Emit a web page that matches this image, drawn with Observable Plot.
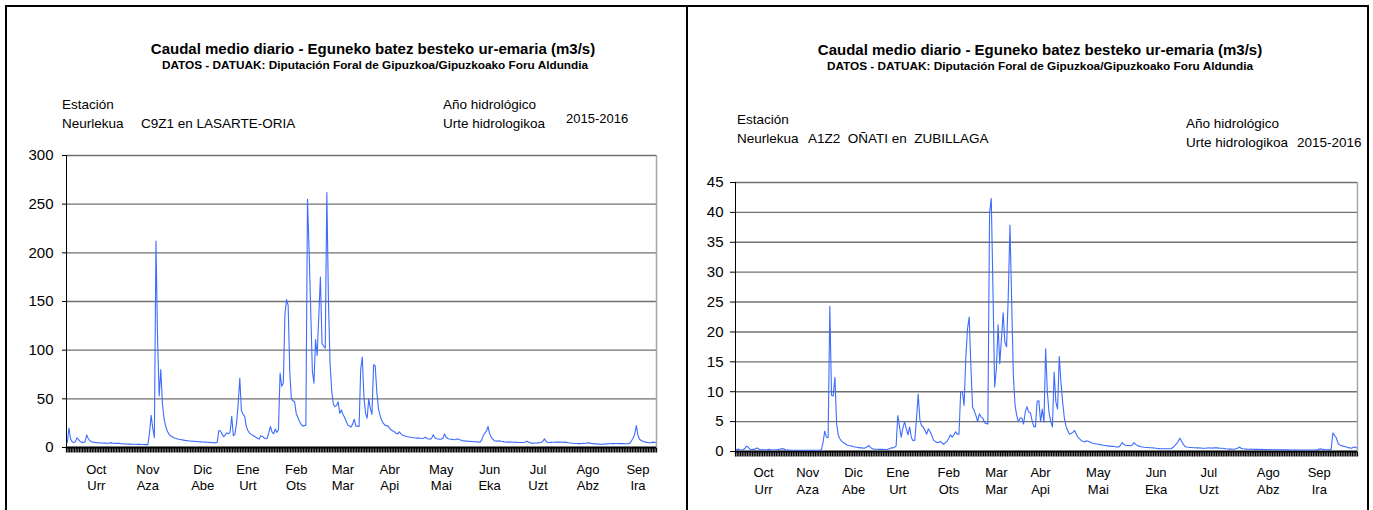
<!DOCTYPE html>
<html>
<head>
<meta charset="utf-8">
<script src="https://cdn.jsdelivr.net/npm/d3@7"></script>
<script src="https://cdn.jsdelivr.net/npm/@observablehq/plot@0.6"></script>
<style>
html, body { margin: 0; padding: 0; background: #fff; }
body { width: 1373px; height: 510px; overflow: hidden; position: relative; font-family: "Liberation Sans", Arial, Helvetica, sans-serif; color: #000; }
.panel { position: absolute; top: 5px; height: 530px; border: 2px solid #000; box-sizing: border-box; }
.t { position: absolute; white-space: pre; line-height: 1; color: #000; }
.plotbox { position: absolute; }
.plotbox svg { display: block; max-width: none; }
</style>
</head>
<body>
<div id="root"></div>
<script>
// ---------- data ----------
const titleText = "Caudal medio diario - Eguneko batez besteko ur-emaria (m3/s)";
const sourceText = "DATOS - DATUAK: Diputación Foral de Gipuzkoa/Gipuzkoako Foru Aldundia";
const stationLabels = ["Estación", "Neurlekua"];
const yearLabels = ["Año hidrológico", "Urte hidrologikoa"];
const yearText = "2015-2016";
const stationLasarte = "C9Z1 en LASARTE-ORIA";
const stationOnati = "A1Z2  OÑATI en  ZUBILLAGA";

const startDay = "2015-10-01";
const endDay = "2016-10-01";

const monthsEs = ["Oct", "Nov", "Dic", "Ene", "Feb", "Mar", "Abr", "May", "Jun", "Jul", "Ago", "Sep"];
const monthsEu = ["Urr", "Aza", "Abe", "Urt", "Ots", "Mar", "Api", "Mai", "Eka", "Uzt", "Abz", "Ira"];

const labelDatesLasarte = ["2015-10-19", "2015-11-20", "2015-12-24", "2016-01-21", "2016-02-20", "2016-03-20",
  "2016-04-18", "2016-05-20", "2016-06-19", "2016-07-19", "2016-08-19", "2016-09-19"];
const labelDatesOnati = ["2015-10-17", "2015-11-12", "2015-12-09", "2016-01-04", "2016-02-03", "2016-03-02",
  "2016-03-28", "2016-05-01", "2016-06-04", "2016-07-05", "2016-08-09", "2016-09-08"];

const yTicksLasarte = [0, 50, 100, 150, 200, 250, 300];
const yTicksOnati = [0, 5, 10, 15, 20, 25, 30, 35, 40, 45];

// daily mean flow (m3/s), 1 Oct 2015 .. 30 Sep 2016 — C9Z1 Lasarte-Oria
const flowLasarte = [
  // Oct
  5, 20, 9, 6, 5, 6, 10, 8, 6, 5.5, 5, 6, 13, 9, 7, 6, 5.5, 5.2, 5, 4.9, 4.8, 4.7, 4.6, 4.5, 4.5, 4.4, 4.4, 5, 4.5, 4.3, 4.2,
  // Nov
  4.2, 4.4, 4.0, 3.8, 3.7, 3.6, 3.6, 3.5, 3.5, 3.4, 3.4, 3.3, 3.3, 3.2, 3.2, 3.1, 3.1, 3.0, 3.0, 3.0, 15, 33, 20, 10, 212, 110, 53, 80, 45, 30,
  // Dec
  22, 17, 14, 12, 11, 10, 9.5, 9, 8.5, 8.2, 7.9, 7.6, 7.3, 7.1, 6.9, 6.7, 6.5, 6.4, 6.3, 6.1, 6.0, 5.9, 5.8, 5.7, 5.6, 5.5, 5.4, 5.3, 5.1, 5.0, 4.9,
  // Jan
  4.8, 5.5, 17.5, 17, 14, 11, 13, 15, 14, 16, 32, 12, 14, 25, 45, 71, 38, 34, 32, 22, 17.5, 15, 13.5, 12.5, 11.5, 10.5, 9.5, 8.6, 12, 11.5, 10,
  // Feb
  9, 9.5, 15, 21.6, 16, 14, 19, 15.5, 18.5, 76.5, 63, 66, 137, 152, 146, 78, 50, 48, 47, 35, 31, 27, 24, 22, 22.5, 23, 255, 202, 141,
  // Mar
  79, 66, 111, 94.5, 135, 175, 107, 104, 102, 262, 150, 86, 58.5, 45, 42, 43, 47, 35, 38.5, 34, 31, 27, 23, 22, 21, 24, 29, 22, 22, 21.5, 80,
  // Apr
  93, 52, 35, 30, 50, 40, 34, 85, 84, 57, 40, 33, 28, 25, 23, 22.5, 22, 19.5, 18, 17, 16, 14.5, 14, 16, 14, 12.5, 12, 11.5, 11, 10.8,
  // May
  10.5, 10.2, 10, 9.8, 9.6, 9.8, 9.5, 9.3, 9.5, 10.5, 9.5, 8.7, 8.4, 9.5, 13, 10, 9, 8.8, 8.6, 8.5, 9.5, 14, 10.5, 9.2, 8.8, 8.5, 8.3, 8, 8.2, 8.9, 8.3,
  // Jun
  7.8, 7, 6.8, 6.6, 6.5, 6.4, 6.3, 6.2, 6, 5.9, 5.8, 5.6, 5.5, 7.5, 12, 14.7, 17, 21.6, 14, 10.5, 8.5, 7, 6.5, 6.6, 6.8, 6.4, 6.1, 5.8, 5.6, 5.5,
  // Jul
  5.5, 5.5, 5.4, 5.4, 5.5, 5.3, 5.2, 5.2, 5.1, 5.2, 5.6, 6.5, 5.6, 5, 4.4, 4.5, 4.6, 4.7, 4.8, 4.9, 5.1, 6.5, 8.9, 6.3, 5.1, 5.2, 5.3, 5.4, 5.4, 5.5, 5.5,
  // Aug
  5.5, 5.5, 5.4, 5.3, 5.5, 5.2, 4.9, 4.6, 4.4, 4.3, 4.1, 4.1, 4.0, 4.0, 4.1, 4.2, 4.3, 4.4, 4.8, 4.5, 4.2, 4.0, 3.8, 3.7, 3.6, 3.5, 3.4, 3.4, 3.5, 3.6, 3.7,
  // Sep
  3.8, 3.9, 4.0, 4.0, 4.1, 4.1, 4.0, 4.0, 4.1, 4.0, 3.9, 3.8, 3.8, 4.5, 7, 9.5, 14, 22.6, 12.3, 8.5, 7.2, 6.5, 5.8, 5.5, 5.2, 4.8, 4.9, 5.5, 5.3, 5.1
];

// daily mean flow (m3/s), 1 Oct 2015 .. 30 Sep 2016 — A1Z2 Oñati en Zubillaga
const flowOnati = [
  // Oct
  0.3, 0.4, 0.3, 0.25, 0.3, 0.5, 0.9, 0.7, 0.4, 0.3, 0.35, 0.4, 0.6, 0.45, 0.3, 0.3, 0.3, 0.25, 0.3, 0.35, 0.3, 0.25, 0.25, 0.3, 0.3, 0.35, 0.4, 0.5, 0.4, 0.3, 0.25,
  // Nov
  0.25, 0.22, 0.2, 0.2, 0.2, 0.2, 0.2, 0.2, 0.2, 0.2, 0.2, 0.2, 0.2, 0.2, 0.2, 0.2, 0.2, 0.2, 0.2, 0.3, 1.5, 3.4, 2.4, 2.3, 24.3, 9.4, 9.3, 12.4, 4.6, 2.7,
  // Dec
  2.1, 1.7, 1.5, 1.3, 1.1, 1.0, 0.95, 0.9, 0.8, 0.75, 0.7, 0.65, 0.6, 0.6, 0.55, 0.6, 0.8, 1.0, 0.7, 0.45, 0.4, 0.38, 0.37, 0.36, 0.35, 0.35, 0.34, 0.34, 0.36, 0.45, 0.6,
  // Jan
  0.6, 0.7, 0.9, 6.0, 4.2, 2.4, 3.9, 5.0, 3.8, 2.8, 4.1, 2.3, 1.8, 1.9, 5.5, 9.6, 5.3, 4.3, 4.1, 3.5, 2.9, 3.8, 3.3, 2.7, 1.9, 1.7, 1.5, 1.5, 1.7, 1.5, 1.2,
  // Feb
  1.5, 1.7, 2.2, 2.8, 2.4, 2.8, 3.3, 2.9, 2.9, 10, 10, 7.7, 15.5, 20.5, 22.5, 14.4, 7.4, 6.8, 6.0, 5.0, 6.3, 5.8, 5.6, 4.8, 4.7, 4.6, 40, 42.3, 27,
  // Mar
  10.8, 13.8, 21.2, 14.7, 18.9, 23.2, 18.3, 17.5, 26, 37.9, 25, 12.7, 7.7, 6.0, 5.0, 5.6, 5.6, 4.6, 6.6, 7.5, 6.6, 6.5, 5.2, 4.2, 4.1, 8.4, 8.5, 5.0, 7.1, 4.9, 17.2,
  // Apr
  9.9, 6.5, 5.0, 4.1, 13.3, 8.3, 7.1, 15.9, 11.6, 8.3, 5.6, 4.2, 3.5, 2.9, 3.0, 3.2, 3.5, 2.9, 2.4, 2.1, 1.8, 1.7, 1.6, 1.8, 1.7, 1.6, 1.45, 1.35, 1.3, 1.25,
  // May
  1.2, 1.15, 1.1, 1.05, 1.0, 0.95, 0.9, 0.9, 0.85, 0.85, 0.8, 0.75, 0.75, 1.0, 1.5, 1.2, 1.05, 1.0, 1.0, 0.95, 1.1, 1.5, 1.2, 1.0, 0.9, 0.8, 0.75, 0.7, 0.68, 0.66, 0.64,
  // Jun
  0.62, 0.6, 0.58, 0.55, 0.5, 0.48, 0.47, 0.46, 0.45, 0.45, 0.45, 0.46, 0.5, 0.7, 1.0, 1.3, 1.7, 2.2, 1.7, 1.2, 0.85, 0.75, 0.7, 0.68, 0.66, 0.64, 0.62, 0.6, 0.6, 0.58,
  // Jul
  0.56, 0.55, 0.55, 0.58, 0.6, 0.58, 0.56, 0.6, 0.62, 0.6, 0.56, 0.55, 0.55, 0.5, 0.45, 0.42, 0.4, 0.4, 0.38, 0.4, 0.45, 0.55, 0.75, 0.55, 0.45, 0.42, 0.4, 0.38, 0.37, 0.4, 0.38,
  // Aug
  0.36, 0.36, 0.35, 0.34, 0.36, 0.34, 0.32, 0.31, 0.3, 0.32, 0.3, 0.3, 0.29, 0.3, 0.29, 0.28, 0.28, 0.3, 0.28, 0.27, 0.27, 0.26, 0.26, 0.26, 0.27, 0.26, 0.26, 0.25, 0.25, 0.26, 0.26,
  // Sep
  0.26, 0.26, 0.25, 0.25, 0.26, 0.27, 0.3, 0.4, 0.45, 0.35, 0.32, 0.3, 0.3, 0.3, 0.35, 3.1, 2.7, 2.3, 1.4, 1.1, 1.0, 0.9, 0.85, 0.75, 0.65, 0.6, 0.55, 0.7, 0.75, 0.6
];

// ---------- drawing ----------
const FONT = '"Liberation Sans", Arial, Helvetica, sans-serif';
const xStart = new Date(startDay + "T00:00:00Z");
const xEnd = new Date(endDay + "T00:00:00Z");
const dayDate = i => d3.utcHour.offset(d3.utcDay.offset(xStart, i), 12);
const noon = s => new Date(s + "T12:00:00Z");
const dayTicks = d3.utcDay.range(xStart, d3.utcDay.offset(xEnd, 1));
const TICK_PX = 5; // length of the daily tick marks below the axis

const root = document.getElementById("root");

function addText(text, o) {
  const d = document.createElement("div");
  d.className = "t";
  d.textContent = text;
  d.style.fontSize = o.size + "px";
  d.style.top = (o.cy - o.size * 0.49) + "px";
  if (o.bold) d.style.fontWeight = "bold";
  if (o.color) d.style.color = o.color;
  if (o.center != null) {
    d.style.left = o.center + "px";
    d.style.transform = "translateX(-50%)";
  } else {
    d.style.left = o.left + "px";
  }
  root.appendChild(d);
}

function addPanel(left, width) {
  const p = document.createElement("div");
  p.className = "panel";
  p.style.left = left + "px";
  p.style.width = width + "px";
  root.appendChild(p);
}

function makeChart(cfg) {
  const yt = cfg.yTicks;
  const yMin = yt[0], yMax = yt[yt.length - 1];
  const frameH = cfg.height - cfg.marginTop - cfg.marginBottom;
  const tickLen = TICK_PX * (yMax - yMin) / frameH; // tick length expressed in y units
  const data = cfg.values.map((v, i) => ({date: dayDate(i), v}));
  const labels = cfg.labelDates.map((d, i) => ({date: noon(d), text: monthsEs[i] + "\n" + monthsEu[i]}));
  const ticks = dayTicks.map(d => ({date: d, top: yMin, bottom: yMin - tickLen}));
  const svg = Plot.plot({
    width: cfg.width,
    height: cfg.height,
    marginLeft: cfg.marginLeft,
    marginRight: cfg.marginRight,
    marginTop: cfg.marginTop,
    marginBottom: cfg.marginBottom,
    style: {fontFamily: FONT, color: "#000", background: "none", overflow: "visible"},
    x: {type: "utc", domain: [xStart, xEnd], axis: null},
    y: {domain: [yMin, yMax], axis: null},
    marks: [
      Plot.ruleY(yt.slice(1), {stroke: "#707070", strokeWidth: 1.4}),
      Plot.ruleX([xEnd], {stroke: "#a6a6a6", strokeWidth: 1.5}),
      Plot.axisY({ticks: yt, tickSize: cfg.tickSize, tickPadding: cfg.tickPadding, fontSize: 15, label: null, stroke: "#000"}),
      Plot.ruleX([xStart], {stroke: "#000", strokeWidth: 1}),
      // daily tick marks hanging below the category axis
      Plot.link(ticks, {x1: "date", x2: "date", y1: "top", y2: "bottom", stroke: "#000", strokeWidth: 1.3}),
      Plot.ruleY([yMin], {stroke: "#000", strokeWidth: 1.8}),
      Plot.lineY(data, {x: "date", y: "v", stroke: "#3d6cff", strokeWidth: 1.1}),
      Plot.text(labels, {x: "date", text: "text", frameAnchor: "bottom", dy: cfg.labelDy, lineAnchor: "middle",
        lineHeight: cfg.labelLineHeight, fontSize: 13})
    ]
  });
  const box = document.createElement("div");
  box.className = "plotbox";
  box.style.left = cfg.left + "px";
  box.style.top = cfg.top + "px";
  box.style.width = cfg.width + "px";
  box.style.height = cfg.height + "px";
  box.appendChild(svg);
  root.appendChild(box);
  // self-check: the daily ticks must have produced several hundred elements
  const n = svg.querySelectorAll("path, line").length;
  if (n < 300) addText("ticks missing: " + n, {left: cfg.left + 100, cy: cfg.top + 60, size: 14, color: "red"});
}

// panels
addPanel(5, 683);
addPanel(686, 683);

// left panel texts
addText(titleText, {center: 373, cy: 48, size: 15, bold: true});
addText(sourceText, {center: 375, cy: 65.5, size: 11.8, bold: true});
addText(stationLabels[0], {left: 62, cy: 105, size: 13.5});
addText(stationLabels[1], {left: 62, cy: 124, size: 13.5});
addText(stationLasarte, {left: 141, cy: 124, size: 13.5});
addText(yearLabels[0], {left: 443, cy: 105, size: 13.5});
addText(yearLabels[1], {left: 443, cy: 124, size: 13.5});
addText(yearText, {left: 566, cy: 118, size: 13});

// right panel texts
addText(titleText, {center: 1040, cy: 49, size: 15, bold: true});
addText(sourceText, {center: 1040, cy: 67, size: 11.8, bold: true});
addText(stationLabels[0], {left: 737, cy: 120, size: 13.5});
addText(stationLabels[1], {left: 737, cy: 139, size: 13.5});
addText(stationOnati, {left: 808, cy: 139, size: 13.5});
addText(yearLabels[0], {left: 1186, cy: 124, size: 13.5});
addText(yearLabels[1], {left: 1186, cy: 143, size: 13.5});
addText(yearText, {left: 1297, cy: 143, size: 13.5});

// charts
makeChart({
  values: flowLasarte, yTicks: yTicksLasarte, labelDates: labelDatesLasarte,
  left: 8, top: 140, width: 670, height: 370,
  marginLeft: 58, marginRight: 22, marginTop: 15, marginBottom: 63,
  tickSize: 4, tickPadding: 9, labelDy: 29, labelLineHeight: 1.22
});
makeChart({
  values: flowOnati, yTicks: yTicksOnati, labelDates: labelDatesOnati,
  left: 690, top: 160, width: 675, height: 350,
  marginLeft: 45, marginRight: 8, marginTop: 22, marginBottom: 59,
  tickSize: 5, tickPadding: 7, labelDy: 29, labelLineHeight: 1.3
});
</script>
</body>
</html>
